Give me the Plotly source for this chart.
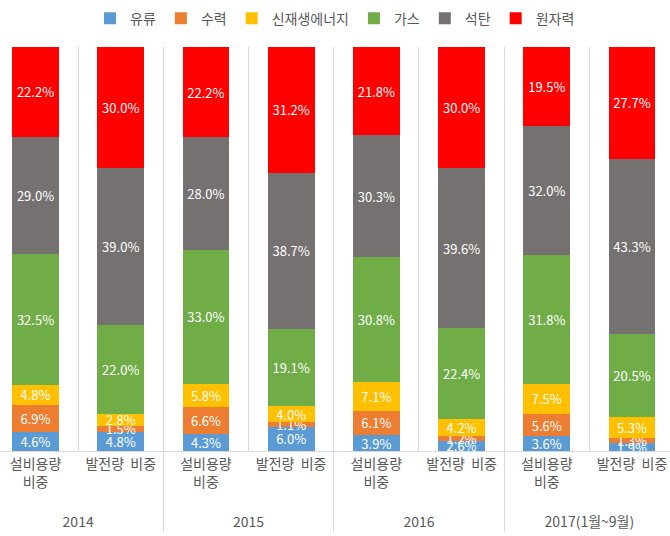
import plotly.graph_objects as go

years = ["2014", "2014", "2015", "2015", "2016", "2016", "2017(1월~9월)", "2017(1월~9월)"]
kinds = ["설비용량<br>비중", "발전량  비중"] * 4

series_names = ["유류", "수력", "신재생에너지", "가스", "석탄", "원자력"]
oil = [4.6, 4.8, 4.3, 6.0, 3.9, 2.6, 3.6, 1.9]
hydro = [6.9, 1.5, 6.6, 1.1, 6.1, 1.2, 5.6, 1.3]
renew = [4.8, 2.8, 5.8, 4.0, 7.1, 4.2, 7.5, 5.3]
gas = [32.5, 22.0, 33.0, 19.1, 30.8, 22.4, 31.8, 20.5]
coal = [29.0, 39.0, 28.0, 38.7, 30.3, 39.6, 32.0, 43.3]
nuclear = [22.2, 30.0, 22.2, 31.2, 21.8, 30.0, 19.5, 27.7]
colors = ["#5B9BD5", "#ED7D31", "#FFC000", "#70AD47", "#767171", "#FF0000"]

FONT = "Noto Sans CJK KR"

# year labels get a leading blank line to sit lower, as in the reference
year_labels = ["<br>" + y for y in years]

fig = go.Figure()
for name, vals, col in zip(series_names, [oil, hydro, renew, gas, coal, nuclear], colors):
    fig.add_trace(go.Bar(
        name=name, x=[year_labels, kinds], y=vals,
        marker=dict(color=col, line=dict(width=0)),
        texttemplate="%{y:.1f}%", textposition="inside",
        insidetextanchor="middle", textangle=0,
        textfont=dict(color="white", size=13, family=FONT),
        constraintext="none",
    ))

fig.update_layout(
    barmode="stack", bargap=0.45,
    width=670, height=536,
    margin=dict(l=0, r=0, t=47, b=85, autoexpand=False),
    paper_bgcolor="white", plot_bgcolor="white",
    font=dict(family=FONT, size=13, color="#595959"),
    uniformtext=dict(minsize=13, mode="show"),
    legend=dict(orientation="h", x=0.5, xanchor="center",
                yref="container", y=0.995, yanchor="top",
                font=dict(size=14, color="#595959"), itemwidth=30,
                traceorder="normal"),
    showlegend=True,
)
fig.update_xaxes(
    type="multicategory", range=[-0.417, 7.446], automargin=False,
    tickson="boundaries", showgrid=True, gridcolor="#D9D9D9", gridwidth=1,
    showline=True, linecolor="#D9D9D9", linewidth=1,
    showdividers=True, dividercolor="#D9D9D9", dividerwidth=1,
    ticks="", tickfont=dict(size=14, color="#595959"),
)
fig.update_yaxes(range=[0, 100], showgrid=False, showticklabels=False,
                 zeroline=False, automargin=False)

fig.write_html("out.html")
